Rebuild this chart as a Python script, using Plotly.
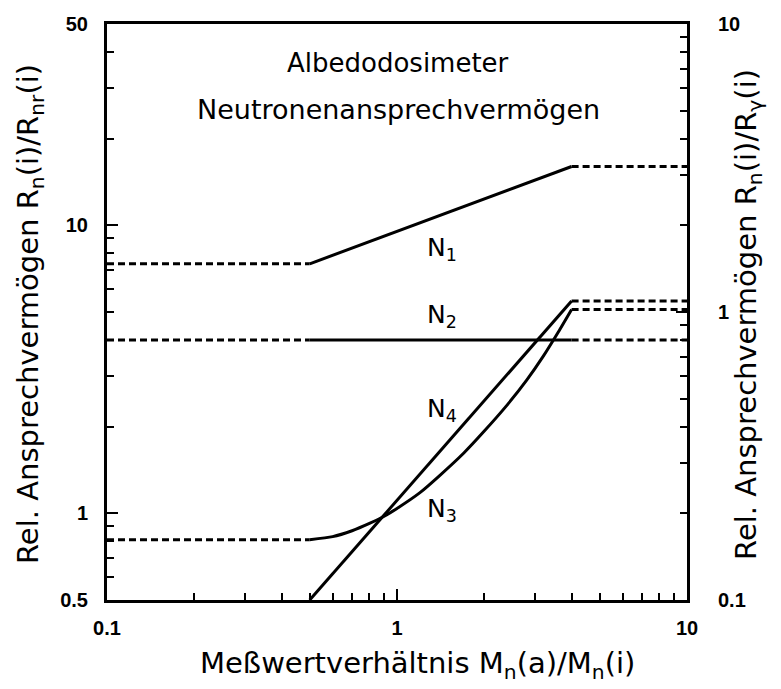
import math
import plotly.graph_objects as go

# Measured-ratio axis limits
x_min, x_max = 0.1, 10.0

# Relative neutron response of the four albedo detectors (solid part of each curve)
n1_x = [0.5, 4.0]
n1_y = [7.35, 16.0]

n2_x = [0.5, 4.0]
n2_y = [4.0, 4.0]

n3_x = [0.5, 0.6, 0.7, 0.8, 0.9, 1.0, 1.2, 1.4, 1.7, 2.0, 2.4, 2.8, 3.2, 3.6, 4.0]
n3_y = [0.81, 0.83, 0.87, 0.92, 0.975, 1.04, 1.18, 1.35, 1.62, 1.93, 2.38, 2.9, 3.52, 4.26, 5.1]

n4_x = [0.5, 4.0]
n4_y = [0.5, 5.46]

# Label anchor points for the curve names
labels = ["N<sub>1</sub>", "N<sub>2</sub>", "N<sub>4</sub>", "N<sub>3</sub>"]
label_x = [1.43, 1.43, 1.43, 1.43]
label_y = [8.3, 4.85, 2.28, 1.03]

# Axis ticks
y_major = [0.5, 1, 10, 50]
y_minor = [0.6, 0.7, 0.8, 0.9, 2, 3, 4, 5, 6, 7, 8, 9, 20, 30, 40]
y2_major = [0.1, 1, 10]
y2_minor = [0.2, 0.3, 0.4, 0.5, 0.6, 0.7, 0.8, 0.9, 2, 3, 4, 5, 6, 7, 8, 9]
x_major = [0.1, 1, 10]
x_minor = [0.2, 0.3, 0.4, 0.5, 0.6, 0.7, 0.8, 0.9, 2, 3, 4, 5, 6, 7, 8, 9]

LW = 3
DASH = "7px,4px"
TXT = "DejaVu Sans"
NUM = "Liberation Sans"

fig = go.Figure()


def add_curve(xs, ys, left_plateau=True):
    # extrapolated constant parts are dashed, the measured range is solid
    if left_plateau:
        fig.add_trace(go.Scatter(x=[x_min, xs[0]], y=[ys[0], ys[0]], mode="lines",
                                 line=dict(color="black", width=LW, dash=DASH),
                                 showlegend=False, hoverinfo="skip"))
    fig.add_trace(go.Scatter(x=xs, y=ys, mode="lines",
                             line=dict(color="black", width=LW, shape="spline", smoothing=0.6),
                             showlegend=False))
    fig.add_trace(go.Scatter(x=[xs[-1], x_max], y=[ys[-1], ys[-1]], mode="lines",
                             line=dict(color="black", width=LW, dash=DASH),
                             showlegend=False, hoverinfo="skip"))


add_curve(n1_x, n1_y)
add_curve(n2_x, n2_y)
add_curve(n3_x, n3_y)
add_curve(n4_x, n4_y, left_plateau=False)

# keeps the right-hand axis active
fig.add_trace(go.Scatter(x=[1], y=[1], yaxis="y2", mode="markers",
                         marker=dict(opacity=0), showlegend=False, hoverinfo="skip"))

axis_common = dict(showline=True, linecolor="black", linewidth=3, ticks="inside",
                   tickcolor="black", tickwidth=2, ticklen=11, showgrid=False,
                   zeroline=False, tickfont=dict(family=NUM, size=20, color="black", weight="bold"))
minor_common = dict(ticks="inside", ticklen=7, tickcolor="black", tickwidth=2)

fig.update_layout(
    width=781, height=689,
    margin=dict(l=107, r=94, t=24, b=89),
    plot_bgcolor="white", paper_bgcolor="white",
    xaxis=dict(type="log", range=[math.log10(x_min), math.log10(x_max)], tickvals=x_major,
               ticktext=["0.1", "1", "10"], mirror=True, ticklabelstandoff=8,
               minor=dict(tickvals=x_minor, **minor_common), **axis_common),
    yaxis=dict(type="log", range=[math.log10(0.5), math.log10(50)], tickvals=y_major,
               ticktext=["0.5", "1", "10", "50"], ticklabelstandoff=12,
               minor=dict(tickvals=y_minor, **minor_common), **axis_common),
    yaxis2=dict(type="log", range=[-1, 1], overlaying="y", side="right", tickvals=y2_major,
                ticktext=["0.1", "1", "10"], ticklabelstandoff=24,
                minor=dict(tickvals=y2_minor, **minor_common), **axis_common),
)

# chart heading inside the frame
fig.add_annotation(xref="paper", yref="paper", x=0.502, y=0.932, xanchor="center", yanchor="middle",
                   showarrow=False, text="Albedodosimeter",
                   font=dict(family=TXT, size=26, color="black"))
fig.add_annotation(xref="paper", yref="paper", x=0.502, y=0.851, xanchor="center", yanchor="middle",
                   showarrow=False, text="Neutronenansprechvermögen",
                   font=dict(family=TXT, size=27, color="black"))

# curve names (log axes take annotation positions in log10 units)
for t, lx, ly in zip(labels, label_x, label_y):
    fig.add_annotation(x=math.log10(lx), y=math.log10(ly), xref="x", yref="y", text=t,
                       showarrow=False, xanchor="center", yanchor="middle",
                       font=dict(family=TXT, size=25, color="black"))

# axis titles
fig.add_annotation(xref="paper", yref="paper", x=0.535, y=-0.113, xanchor="center", yanchor="middle",
                   showarrow=False,
                   text="Meßwertverhältnis M<sub>n</sub>(a)/M<sub>n</sub>(i)",
                   font=dict(family=TXT, size=29, color="black"))
fig.add_annotation(xref="paper", yref="paper", x=-0.1328, y=0.4965, xanchor="center", yanchor="middle",
                   showarrow=False, textangle=-90,
                   text="Rel. Ansprechvermögen R<sub>n</sub>(i)/R<sub>nr</sub>(i)",
                   font=dict(family=TXT, size=29, color="black"))
fig.add_annotation(xref="paper", yref="paper", x=1.105, y=0.4965, xanchor="center", yanchor="middle",
                   showarrow=False, textangle=-90,
                   text="Rel. Ansprechvermögen R<sub>n</sub>(i)/R<sub>γ</sub>(i)",
                   font=dict(family=TXT, size=29, color="black"))

fig.write_html("out.html")
